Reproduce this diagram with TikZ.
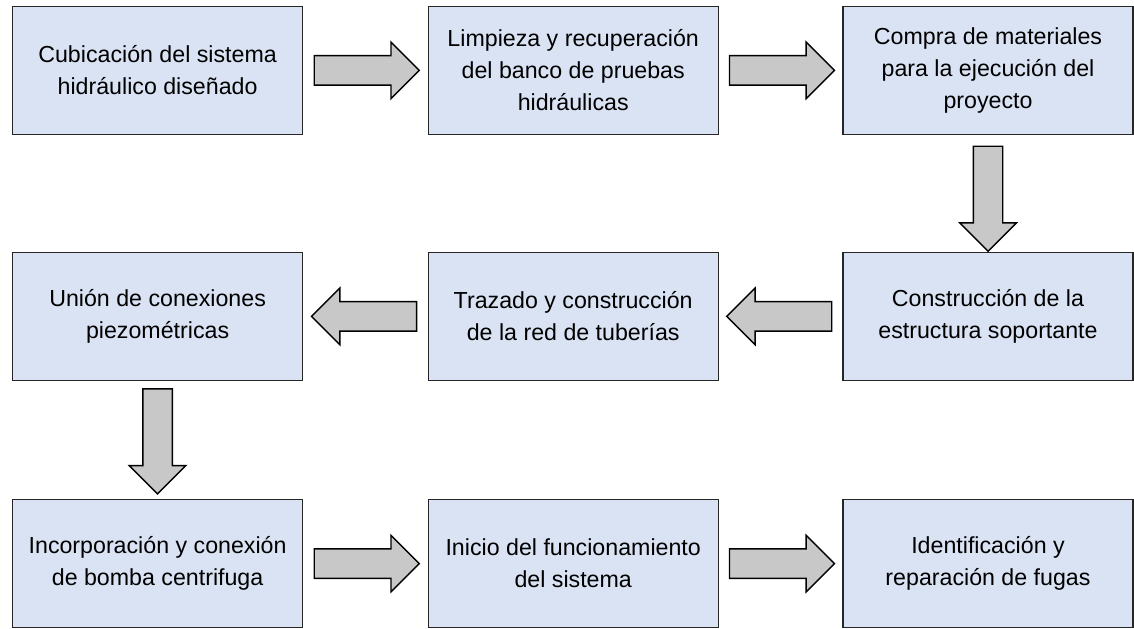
\documentclass[tikz,border=0pt]{standalone}
\usepackage{fontspec}
\setmainfont{Liberation Sans}
\usetikzlibrary{shapes.arrows}
\definecolor{boxblue}{HTML}{DAE3F3}
\definecolor{arrowgray}{HTML}{C8C8C8}
\begin{document}
\begin{tikzpicture}[
   box/.style={rectangle, draw=black!85, line width=1pt, fill=boxblue, minimum width=7.25cm, minimum height=3.2cm, align=center, font=\fontsize{16.5}{22.8}\selectfont},
   blockarrow/.style={single arrow, draw=black, line width=1pt, fill=arrowgray, minimum height=2.625cm, inner xsep=0pt, inner ysep=0.35cm, single arrow head extend=0.34cm, single arrow head indent=0pt},
   rarrow/.style={blockarrow, xshift=-0.15cm},
   larrow/.style={blockarrow, xshift=0.15cm, rotate=180},
   darrow/.style={blockarrow, yshift=0.15cm, rotate=-90}
]
\useasboundingbox (0,0) rectangle (28.35,-15.7);

% First row
\node[box] (cubicacion) at (3.94,-1.76) {Cubicación del sistema\\hidráulico diseñado};
\node[box] (limpieza) at (14.33,-1.76) {Limpieza y recuperación\\del banco de pruebas\\hidráulicas};
\node[box] (compra) at (24.70,-1.76) {Compra de materiales\\para la ejecución del\\proyecto};

% Second row
\node[box] (union) at (3.94,-7.91) {Unión de conexiones\\piezométricas};
\node[box] (trazado) at (14.33,-7.91) {Trazado y construcción\\de la red de tuberías};
\node[box] (construccion) at (24.70,-7.91) {Construcción de la\\estructura soportante};

% Third row
\node[box] (bomba) at (3.94,-14.09) {Incorporación y conexión\\de bomba centrifuga};
\node[box] (inicio) at (14.33,-14.09) {Inicio del funcionamiento\\del sistema};
\node[box] (fugas) at (24.70,-14.09) {Identificación y\\reparación de fugas};

% Block arrows
\path (cubicacion) -- node[rarrow] (a1) {} (limpieza);
\path (limpieza) -- node[rarrow] (a2) {} (compra);
\path (compra) -- node[yshift=-0.1cm, darrow] (a3) {} (construccion);
\path (construccion) -- node[larrow] (a4) {} (trazado);
\path (trazado) -- node[larrow] (a5) {} (union);
\path (union) -- node[darrow] (a6) {} (bomba);
\path (bomba) -- node[rarrow] (a7) {} (inicio);
\path (inicio) -- node[rarrow] (a8) {} (fugas);

\end{tikzpicture}
\end{document}
